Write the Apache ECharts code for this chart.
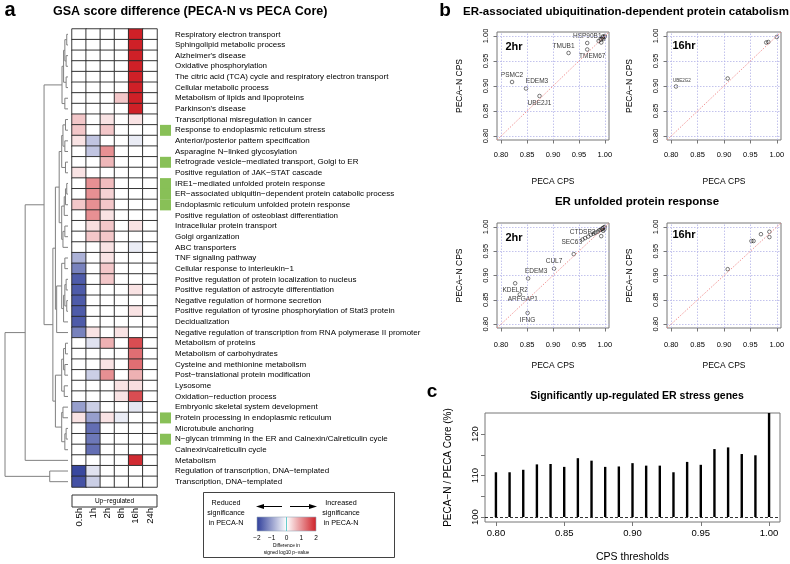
<!DOCTYPE html>
<html><head><meta charset="utf-8">
<script src="https://cdn.jsdelivr.net/npm/echarts@6/dist/echarts.min.js"></script>
<style>html,body{margin:0;padding:0;background:#fff}#c{width:790px;height:564px}</style>
</head><body><div id="c"></div><script>
const FONT = '"Liberation Sans", Arial, Helvetica, sans-serif';

// ---------------- Panel a data ----------------
const rowLabels = [
 'Respiratory electron transport','Sphingolipid metabolic process',"Alzheimer's disease",'Oxidative phosphorylation',
 'The citric acid (TCA) cycle and respiratory electron transport','Cellular metabolic process','Metabolism of lipids and lipoproteins',
 "Parkinson's disease",'Transcriptional misregulation in cancer','Response to endoplasmic reticulum stress',
 'Anterior/posterior pattern specification','Asparagine N\u2212linked glycosylation','Retrograde vesicle\u2212mediated transport, Golgi to ER',
 'Positive regulation of JAK\u2212STAT cascade','IRE1\u2212mediated unfolded protein response',
 'ER\u2212associated ubiquitin\u2212dependent protein catabolic process','Endoplasmic reticulum unfolded protein response',
 'Positive regulation of osteoblast differentiation','Intracellular protein transport','Golgi organization','ABC transporters',
 'TNF signaling pathway','Cellular response to interleukin\u22121','Positive regulation of protein localization to nucleus',
 'Positive regulation of astrocyte differentiation','Negative regulation of hormone secretion',
 'Positive regulation of tyrosine phosphorylation of Stat3 protein','Decidualization',
 'Negative regulation of transcription from RNA polymerase II promoter','Metabolism of proteins','Metabolism of carbohydrates',
 'Cysteine and methionine metabolism','Post\u2212translational protein modification','Lysosome','Oxidation\u2212reduction process',
 'Embryonic skeletal system development','Protein processing in endoplasmic reticulum','Microtubule anchoring',
 'N\u2212glycan trimming in the ER and Calnexin/Calreticulin cycle','Calnexin/calreticulin cycle','Metabolism',
 'Regulation of transcription, DNA\u2212templated','Transcription, DNA\u2212templated'
];
const colLabels = ['0.5h','1h','2h','8h','16h','24h'];
// difference in signed log10 p-value, one row per gene set, columns = colLabels
const heatValues = [
 [0,0,0,0,2,0],[0,0,0,0,2,0],[0,0,0,0,2,0],[0,0,0,0,2,0],[0,0,0,0,2,0],[0,0,0,0,2,0],
 [0,0,0,0.5,2,0],[0,0,0,0,2,0],
 [0.5,0,0.25,0,0.25,0],[0.5,0,0.5,0,0,0],[0.25,-0.6,0,0,-0.2,0],[0,-0.6,1.0,0,0,0],
 [0,0,0.65,0,0,0],[0.25,0,0,0,0,0],[0,1.0,0.6,0,0,0],[0,1.0,0.4,0,0,0],[0.5,1.0,0.5,0,0,0],
 [0,1.0,0.25,0,0,0],[0,0.3,0.5,0,0.25,0],[0,0.5,0.5,0,0,0],[0,0,0.25,0,-0.2,0],
 [-0.8,0,0.25,0,0,0],[-1.3,0,0.5,0,0,0],[-1.7,0,0.5,0,0,0],[-1.7,0,0,0,0.25,0],[-1.7,0,0,0,0,0],
 [-1.7,0,0,0,0.25,0],[-1.7,0,0,0,0,0],[-1.3,0.25,0,0.25,0,0],
 [0,-0.3,0.7,0,1.6,0],[0,0,0,0,1.3,0],[0,0,0.25,0,1.3,0],[0,-0.5,1.0,0,0.7,0],[0,0,0,0.25,0.3,0],
 [0,0,0,0.25,1.6,0],[-1.0,-0.5,0,0,-0.25,0],[0.25,-1.0,0.25,-0.2,0,0],[0,-1.5,0,0,0,0],
 [0,-1.4,0,0,0,0],[0,-1.5,0,0,0,0],[0,0,0,0,1.9,0],[-1.9,-0.3,0,0,0,0],[-1.8,-0.5,0,0,0,0]
];
const erStressRows = [10,13,15,16,17,37,39]; // 1-based rows flagged green
// hclust-style merges: negative = leaf row, positive = earlier merge; third = height (0..1)
const dendroMerges = [
 [-1,-2,0.02],[-3,-4,0.03],[1,2,0.05],[-5,-6,0.03],[3,4,0.07],[-7,-8,0.05],[5,6,0.095],
 [-9,-10,0.04],[-11,-12,0.05],[8,9,0.08],[-13,-14,0.04],[10,11,0.1],[-15,-16,0.02],[13,-17,0.04],
 [14,-18,0.06],[-19,-20,0.05],[16,-21,0.08],[15,17,0.1],[12,18,0.14],
 [-22,-23,0.05],[-24,-25,0.03],[-26,-27,0.02],[21,22,0.05],[23,-28,0.07],[20,24,0.1],[25,-29,0.18],
 [19,26,0.2],
 [-30,-31,0.04],[-32,-33,0.05],[28,29,0.07],[-34,-35,0.06],[30,31,0.1],[-36,-37,0.08],[-38,-39,0.03],
 [34,-40,0.05],[33,35,0.1],[32,36,0.2],
 [27,37,0.24],[7,38,0.38],[39,-41,0.68],[-42,-43,0.29],[40,41,1.0]
];

// ---------------- Panel b data ----------------
const ubqX2 = [0.821,0.848,0.874,0.930,0.966,0.966,0.988,0.992,0.995,0.997,0.999,1.000,0.993,0.996];
const ubqY2 = [0.908,0.895,0.880,0.966,0.986,0.973,0.990,0.993,0.996,0.994,0.998,1.000,0.987,0.999];
const ubqN2 = ['PSMC2','EDEM3','UBE2J1','TMUB1','HSP90B1','TMEM67','','','','','','','',''];
const ubqX16 = [0.809,0.907,0.980,0.984,1.000];
const ubqY16 = [0.899,0.915,0.987,0.988,0.998];
const ubqN16 = ['UBE2G2','','','',''];
const upX2 = [0.851,0.836,0.827,0.852,0.902,0.940,0.957,0.962,0.968,0.973,0.978,0.982,0.986,0.989,0.992,0.994,0.996,0.998,1.000,0.999,0.993,0.997];
const upY2 = [0.823,0.861,0.884,0.894,0.914,0.944,0.974,0.977,0.980,0.984,0.986,0.988,0.990,0.993,0.994,0.996,0.997,0.999,1.000,0.995,0.981,0.992];
const upN2 = ['IFNG','ARFGAP1','KDELR2','EDEM3','CUL7','SEC63','CTDSP2','','','','','','','','','','','','','','',''];
const upX16 = [0.907,0.952,0.956,0.970,0.986,0.986];
const upY16 = [0.913,0.971,0.971,0.985,0.990,0.979];
const upN16 = ['','','','','',''];
const cpsTicks = [0.80,0.85,0.90,0.95,1.00];

// ---------------- Panel c data ----------------
const cpsThresholds = [0.80,0.81,0.82,0.83,0.84,0.85,0.86,0.87,0.88,0.89,0.90,0.91,0.92,0.93,0.94,0.95,0.96,0.97,0.98,0.99,1.00];
const upRatio = [110.8,110.8,111.4,112.7,112.8,112.1,114.2,113.6,112.1,112.2,113.0,112.4,112.4,110.8,113.3,112.6,116.4,116.8,115.2,114.9,125.1];
const ratioBase = 100;
const ratioTicks = [100,105,110,115,120];
const ratioLabels = [100,110,120];

// ---------------- styles ----------------
const heatColors = ['#2f3e9a','#ffffff','#cf2027'];
const cpsMin = 0.792, cpsMax = 1.008;
const labelPlace = {
 b1: {PSMC2:['top',0,0],EDEM3:['top',11,0],UBE2J1:['bottom',0,0],TMUB1:['top',-5,0],HSP90B1:['top',0,0],TMEM67:['bottom',5,0]},
 b2: {UBE2G2:['top',6,0]},
 b3: {IFNG:['bottom',0,0],ARFGAP1:['bottom',3,-2],KDELR2:['bottom',0,0],EDEM3:['top',8,0],CUL7:['top',0,0],SEC63:['top',-2,-5],CTDSP2:['top',0,0]},
 b4: {}
};

function dendroSegs(merges){
  const nodes=[], segs=[];
  const pos = r => r<0 ? {h:0,y:-r} : nodes[r-1];
  merges.forEach(([a,b,h])=>{
    const A=pos(a), B=pos(b);
    nodes.push({h, y:(A.y+B.y)/2});
    segs.push([h, A.y, B.y, A.h, B.h]);
  });
  return segs;
}

const heatData = [];
heatValues.forEach((row,r)=>row.forEach((v,c)=>heatData.push([c,r,v])));

const scatterGrids = [
 {left:497, top:32, width:112, height:108},
 {left:667, top:32, width:114, height:108},
 {left:497, top:223, width:112, height:105},
 {left:667, top:223, width:114, height:105}
];
const grids = [
 {left:72, top:29, width:85, height:458},
 {left:160, top:29, width:11, height:458},
 {left:5, top:29, width:63, height:458},
 ...scatterGrids.map(g=>Object.assign({show:true, borderColor:'#777', borderWidth:1, backgroundColor:'transparent'}, g)),
 {left:485, top:413, width:295, height:109, show:true, borderColor:'#777', borderWidth:1}
];

const xAxes = [
 {type:'category', gridIndex:0, data:colLabels, axisLine:{show:false}, axisTick:{show:false},
  axisLabel:{rotate:90, margin:21, fontSize:9.5, color:'#000', interval:0}, splitLine:{show:false}},
 {type:'category', gridIndex:1, data:['g'], show:false},
 {type:'value', gridIndex:2, min:0, max:1, inverse:true, show:false},
];
const yAxes = [
 {type:'category', gridIndex:0, data:rowLabels, inverse:true, show:false},
 {type:'category', gridIndex:1, data:rowLabels, inverse:true, position:'right',
  axisLine:{show:false}, axisTick:{show:false}, axisLabel:{margin:4, fontSize:8, color:'#000', interval:0}},
 {type:'value', gridIndex:2, min:0.5, max:rowLabels.length+0.5, inverse:true, show:false},
];
const tickFmt = v => v.toFixed(2);
for (let i=0;i<4;i++){
  const bottom = i>=2;
  xAxes.push({type:'value', gridIndex:3+i, min:cpsMin, max:cpsMax, name:'PECA CPS', nameLocation:'middle',
    nameGap: bottom?33:37.5, nameTextStyle:{fontSize:8.5, color:'#000'},
    axisLine:{show:false}, splitLine:{show:false},
    axisTick:{show:true, length:3.5, customValues:cpsTicks, lineStyle:{color:'#777'}},
    axisLabel:{customValues:cpsTicks, formatter:tickFmt, fontSize:7.5, color:'#000', margin: bottom?13:11}});
  yAxes.push({type:'value', gridIndex:3+i, min:cpsMin, max:cpsMax, name:'PECA\u2212N CPS', nameLocation:'middle',
    nameGap:33, nameTextStyle:{fontSize:8.5, color:'#000'},
    axisLine:{show:false}, splitLine:{show:false},
    axisTick:{show:true, length:3.5, customValues:cpsTicks, lineStyle:{color:'#777'}},
    axisLabel:{customValues:cpsTicks, formatter:tickFmt, fontSize:7.5, color:'#000', rotate:90, margin:7.5}});
}
xAxes.push({type:'value', gridIndex:7, min:cpsMin, max:cpsMax, name:'CPS thresholds', nameLocation:'middle', nameGap:30,
  nameTextStyle:{fontSize:10.5, color:'#000'}, axisLine:{show:false}, splitLine:{show:false},
  axisTick:{show:true, length:4, customValues:cpsTicks, lineStyle:{color:'#777'}},
  axisLabel:{customValues:cpsTicks, formatter:tickFmt, fontSize:9.5, color:'#000', margin:6}});
yAxes.push({type:'value', gridIndex:7, min:98.8, max:125.1, name:'PECA\u2212N / PECA Core (%)', nameLocation:'middle', nameGap:32,
  nameTextStyle:{fontSize:10, color:'#000'}, axisLine:{show:false}, splitLine:{show:false},
  axisTick:{show:true, length:4, customValues:ratioTicks, lineStyle:{color:'#777'}},
  axisLabel:{customValues:ratioLabels, fontSize:9.5, color:'#000', rotate:90, margin:5}});

const gridLineMarks = cpsTicks.map(v=>({xAxis:v})).concat(cpsTicks.map(v=>({yAxis:v})));
function scatterSeries(idx, xs, ys, names, place){
  const data = xs.map((x,i)=>{
    const item = {value:[x, ys[i]], name:names[i]};
    const p = place[names[i]];
    if (names[i] && p){
      item.label = {show:true, position:p[0], offset:[p[1],p[2]], distance:1.5};
    }
    return item;
  });
  return {type:'scatter', xAxisIndex:3+idx, yAxisIndex:3+idx, data, symbol:'circle', symbolSize:3.6,
    itemStyle:{color:'rgba(0,0,0,0)', borderColor:'#000', borderWidth:0.65}, silent:true,
    label:{show:false, formatter:'{b}', fontSize: idx===1?4.5:6.5, color:'#000'},
    markLine:{silent:true, symbol:'none', animation:false, label:{show:false},
      lineStyle:{type:[1.5,1.5], color:'#b4b4e8', width:0.8},
      data: gridLineMarks.concat([[{coord:[cpsMin,cpsMin], lineStyle:{color:'#f08a8a', type:[1.5,1.5], width:0.9}},{coord:[cpsMax,cpsMax]}]])},
    z:3};
}

const series = [
 {type:'heatmap', xAxisIndex:0, yAxisIndex:0, data:heatData,
  itemStyle:{borderColor:'#262626', borderWidth:0.9}, emphasis:{disabled:true}, silent:true},
 {type:'custom', xAxisIndex:1, yAxisIndex:1, data:erStressRows.map(r=>[0,r-1]), silent:true,
  renderItem:(p,api)=>{ const c=api.coord([api.value(0),api.value(1)]); const s=api.size([1,1]);
    return {type:'rect', shape:{x:c[0]-s[0]/2, y:c[1]-s[1]/2, width:s[0], height:s[1]+0.3}, style:{fill:'#88c057'}}; }},
 {type:'custom', xAxisIndex:2, yAxisIndex:2, data:dendroSegs(dendroMerges), encode:{x:[0,3,4], y:[1,2]}, silent:true,
  renderItem:(p,api)=>{ const h=api.value(0), y1=api.value(1), y2=api.value(2), h1=api.value(3), h2=api.value(4);
    const pts=[api.coord([h1,y1]),api.coord([h,y1]),api.coord([h,y2]),api.coord([h2,y2])];
    return {type:'polyline', shape:{points:pts}, style:{stroke:'#808080', fill:null, lineWidth:1}}; }},
 scatterSeries(0, ubqX2, ubqY2, ubqN2, labelPlace.b1),
 scatterSeries(1, ubqX16, ubqY16, ubqN16, labelPlace.b2),
 scatterSeries(2, upX2, upY2, upN2, labelPlace.b3),
 scatterSeries(3, upX16, upY16, upN16, labelPlace.b4),
 {type:'custom', xAxisIndex:7, yAxisIndex:7, data:cpsThresholds.map((t,i)=>[t, upRatio[i]]), silent:true, clip:true,
  renderItem:(p,api)=>{ const a=api.coord([api.value(0), ratioBase]); const b=api.coord([api.value(0), api.value(1)]);
    return {type:'line', shape:{x1:a[0],y1:a[1],x2:b[0],y2:b[1]}, style:{stroke:'#000', lineWidth:2.4}}; },
  markLine:{silent:true, symbol:'none', animation:false, label:{show:false}, lineStyle:{type:[3,2], color:'#000', width:0.8},
    data:[{yAxis:ratioBase}]}}
];

const T = (text,x,y,size,opt={}) => Object.assign({type:'text', x, y, silent:true,
  style:Object.assign({text, fontSize:size, fontFamily:FONT, fill:'#000', align:'center', verticalAlign:'middle'}, opt)});
const cbStops = heatColors.map((c,i)=>({offset:i/(heatColors.length-1), color:c}));
const graphic = [
 T('a',10,10,20,{fontWeight:'bold'}),
 T('GSA score difference (PECA-N vs PECA Core)',53,12,12.5,{fontWeight:'bold', align:'left'}),
 T('b',445,11,19,{fontWeight:'bold'}),
 T('ER-associated ubiquitination-dependent protein catabolism',626,12,11.5,{fontWeight:'bold'}),
 T('ER unfolded protein response',637,202,11.5,{fontWeight:'bold'}),
 T('c',432,392,19,{fontWeight:'bold'}),
 T('Significantly up-regulated ER stress genes',637,396,10.5,{fontWeight:'bold'}),
 T('2hr',514,47,11,{fontWeight:'bold'}),
 T('16hr',684,46,11,{fontWeight:'bold'}),
 T('2hr',514,238,11,{fontWeight:'bold'}),
 T('16hr',684,235,11,{fontWeight:'bold'}),
 {type:'rect', shape:{x:72,y:495,width:85,height:12}, style:{fill:'#fff', stroke:'#333', lineWidth:1}, silent:true},
 T('Up\u2212regulated',114.5,501.5,6.5),
 {type:'rect', shape:{x:203.5,y:492.5,width:191,height:65}, style:{fill:'#fff', stroke:'#111', lineWidth:0.8}, silent:true},
 T('Reduced',226,503,7.2), T('significance',226,513,7.2), T('in PECA-N',226,523,7.2),
 T('Increased',341,503,7.2), T('significance',341,513,7.2), T('in PECA-N',341,523,7.2),
 {type:'line', shape:{x1:262,y1:506.5,x2:282,y2:506.5}, style:{stroke:'#000', lineWidth:1}, silent:true},
 {type:'polygon', shape:{points:[[256,506.5],[264,504],[264,509]]}, style:{fill:'#000'}, silent:true},
 {type:'line', shape:{x1:290,y1:506.5,x2:311,y2:506.5}, style:{stroke:'#000', lineWidth:1}, silent:true},
 {type:'polygon', shape:{points:[[317,506.5],[309,504],[309,509]]}, style:{fill:'#000'}, silent:true},
 {type:'rect', shape:{x:257,y:517,width:59,height:14}, style:{fill:{type:'linear',x:0,y:0,x2:1,y2:0,colorStops:cbStops}, stroke:'#9ab', lineWidth:0.6}, silent:true},
 {type:'line', shape:{x1:286.5,y1:517,x2:286.5,y2:531}, style:{stroke:'#66cccc', lineWidth:1}, silent:true},
 T('\u22122',257,538,6.5), T('\u22121',271.75,538,6.5), T('0',286.5,538,6.5), T('1',301.25,538,6.5), T('2',316,538,6.5),
 T('Difference in',286.5,546,4.8), T('signed log10 p\u2212value',286.5,552.5,4.8)
];

const chart = echarts.init(document.getElementById('c'), null, {renderer:'canvas'});
chart.setOption({
  animation:false,
  backgroundColor:'#fff',
  textStyle:{fontFamily:FONT},
  visualMap:{type:'continuous', min:-2, max:2, seriesIndex:0, show:false, inRange:{color:heatColors}},
  grid:grids, xAxis:xAxes, yAxis:yAxes, series, graphic
});
</script></body></html>
